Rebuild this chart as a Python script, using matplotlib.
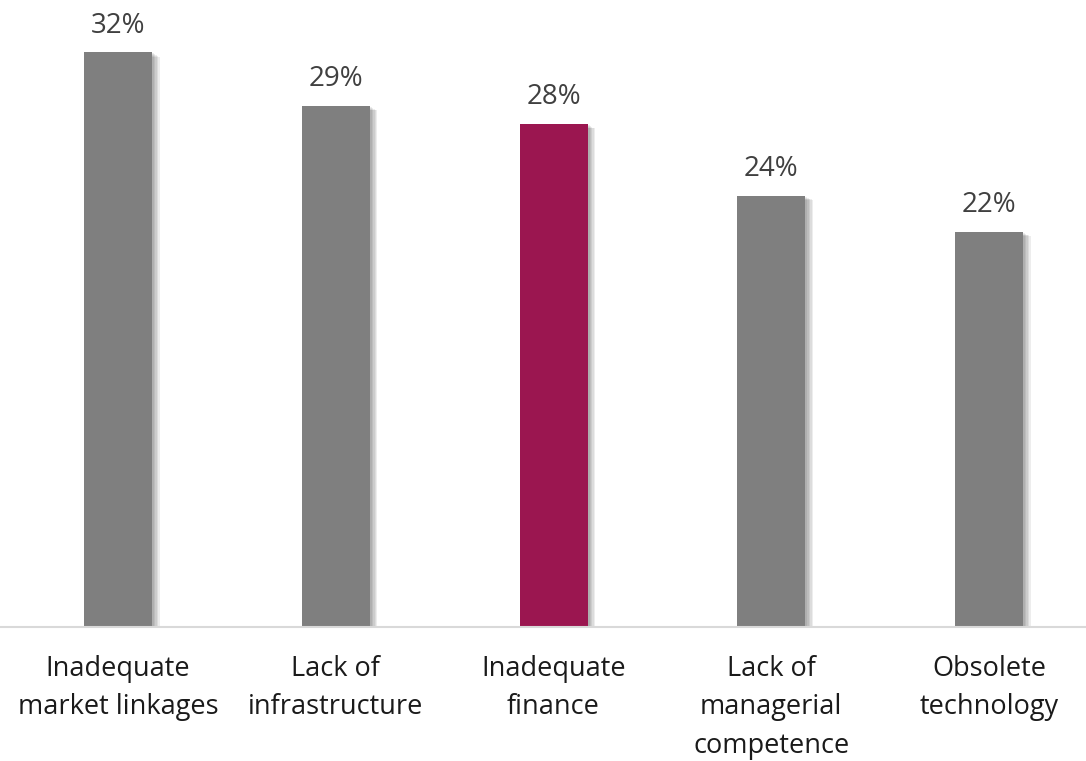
import matplotlib
matplotlib.use("Agg")
import matplotlib.pyplot as plt
import matplotlib.patheffects as pe

categories = ["Inadequate\nmarket linkages", "Lack of\ninfrastructure", "Inadequate\nfinance",
              "Lack of\nmanagerial\ncompetence", "Obsolete\ntechnology"]
values = [32, 29, 28, 24, 22]
value_labels = ["32%", "29%", "28%", "24%", "22%"]
colors = ["#7F7F7F", "#7F7F7F", "#9B1650", "#7F7F7F", "#7F7F7F"]

plt.rcParams['font.family'] = ['Open Sans', 'DejaVu Sans']
W, H = 1086, 761
fig = plt.figure(figsize=(W / 100, H / 100), dpi=100)
ax = fig.add_axes([0, 134 / H, 1, 627 / H])

x = list(range(len(categories)))
bars = ax.bar(x, values, width=68 / 217.75, color=colors, zorder=3)
shadow = [pe.SimplePatchShadow(offset=(o, -o * 0.6), shadow_rgbFace='#000000', alpha=0.07)
          for o in (1.5, 2.5, 3.5, 4.5, 5.5)]
for b in bars:
    b.set_path_effects(shadow + [pe.Normal()])

for xi, v, lab in zip(x, values, value_labels):
    ax.annotate(lab, (xi, v), xytext=(0, 14), textcoords='offset points', ha='center', va='baseline',
                fontsize=20, color='#404040')

ax.set_xlim(-118 / 217.75, (W - 118) / 217.75)
ax.set_ylim(0, 627 / 17.97)
for s in ['top', 'right', 'left']:
    ax.spines[s].set_visible(False)
ax.spines['bottom'].set_color('#D9D9D9')
ax.spines['bottom'].set_linewidth(1.5)
ax.spines['bottom'].set_zorder(4)
ax.set_yticks([])
ax.set_xticks(x)
ax.set_xticklabels(categories, fontsize=19.5, color='#1a1a1a', linespacing=1.5)
ax.tick_params(axis='x', length=0, pad=20)

fig.savefig("out.png", dpi=100)
